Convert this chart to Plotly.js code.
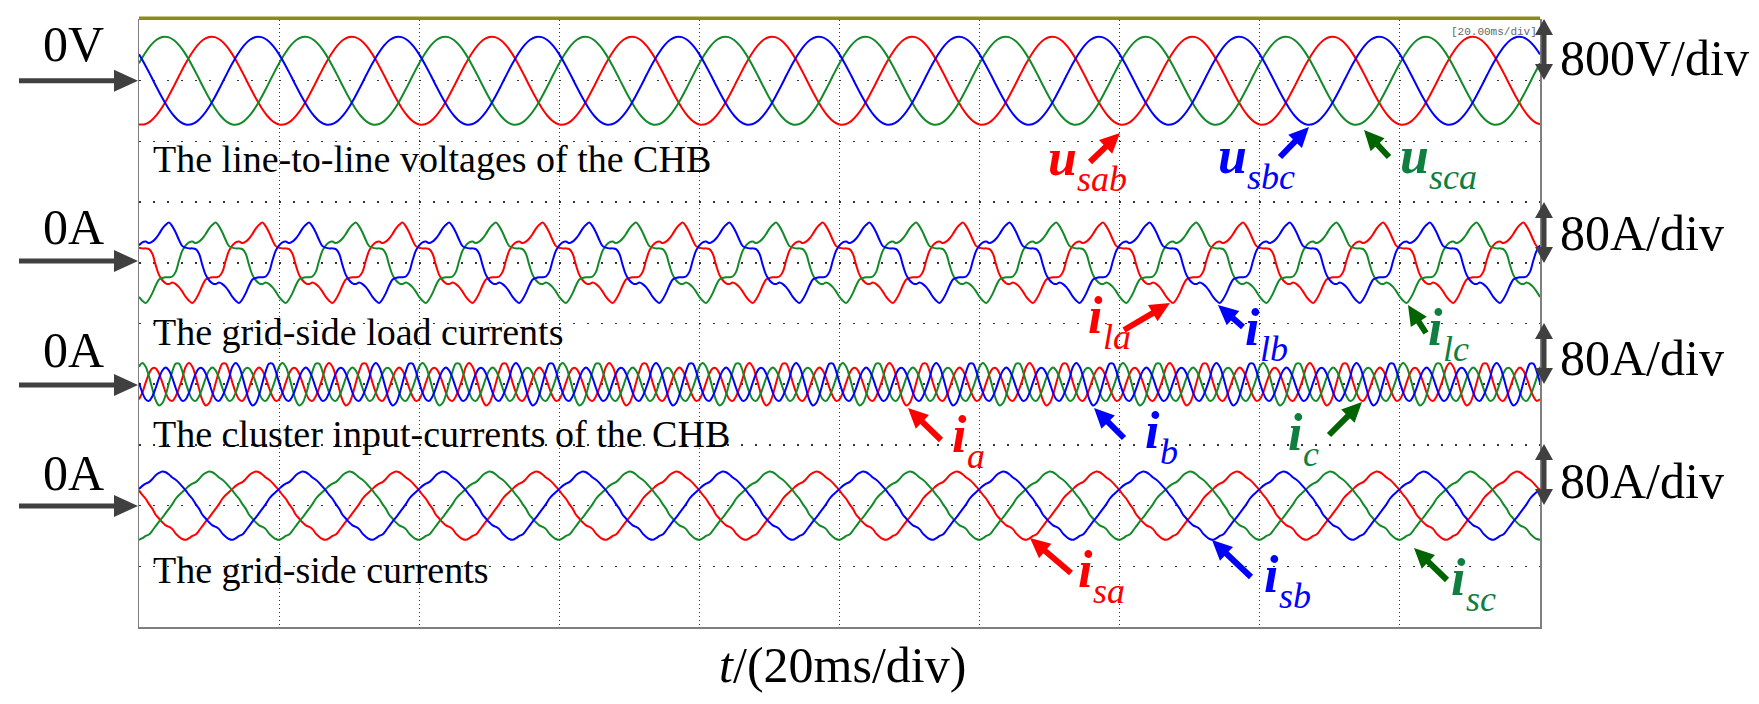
<!DOCTYPE html>
<html>
<head>
<meta charset="utf-8">
<script src="https://cdn.plot.ly/plotly-3.0.1.min.js"></script>
<style>html,body{margin:0;padding:0;background:#fff;}#chart{width:1759px;height:704px;}</style>
</head>
<body>
<div id="chart"></div>
<script>
// ---------- data (one 20 ms cycle, phase a) ----------
const timeDivMs = 20;
const cycles = 10;
// line-to-line voltage u_sab, V (24 samples / cycle)
const usab = [-576,-574,-533,-455,-347,-214,-68,84,229,359,465,539,576,574,533,455,347,214,68,-84,-229,-359,-465,-539];
// grid-side load current i_la, A (42 samples / cycle)
const ila = [20,19,19,18,12,-3,-16,-23,-27,-28,-26,-28,-32,-38,-45,-50,-53,-48,-40,-30,-22,-20,-19,-19,-18,-12,3,16,23,27,28,26,28,32,38,45,50,53,48,40,30,22];
// cluster input current i_a, A (42 samples / cycle)
const ia = [-20,-11,2,14,21,21,14,2,-11,-20,-22,-16,-5,8,23,28,23,10,-6,-21,-28,-25,-14,2,17,27,27,17,2,-11,-20,-22,-16,-5,8,18,22,18,8,-5,-16,-22];
// grid-side current i_sa, A (42 samples / cycle)
const isa = [20,14,9,2,-4,-12,-17,-22,-26,-28,-31,-37,-41,-44,-45,-43,-40,-38,-33,-27,-21,-16,-10,-4,2,9,14,18,22,26,29,31,35,40,43,45,44,41,37,34,30,25];
// channel scales (per division)
const scaleV = 800, scaleA = 80;
const channelLabels = ['0V','0A','0A','0A'];
const scaleLabels = ['800V/div','80A/div','80A/div','80A/div'];
const captions = ['The line-to-line voltages of the CHB','The grid-side load currents','The cluster input-currents of the CHB','The grid-side currents'];
const waveNames = [['u','sab'],['u','sbc'],['u','sca'],['i','la'],['i','lb'],['i','lc'],['i','a'],['i','b'],['i','c'],['i','sa'],['i','sb'],['i','sc']];

// ---------- build ----------
const RED='#ff0000', BLUE='#0000ff', GREEN='#138a2a';
function wave(cyc, shift){
  const n=cyc.length, x=[], y=[];
  for(let i=0;i<=cycles*n;i++){ x.push(i*timeDivMs/n); y.push(cyc[((i+shift)%n+n)%n]); }
  return {x,y};
}
function three(cyc, yax){
  const n=cyc.length, s=n/3;
  const a=wave(cyc,0), b=wave(cyc,-s), c=wave(cyc,s);
  const common={type:'scatter',mode:'lines',yaxis:yax,hoverinfo:'skip',showlegend:false};
  return [
    Object.assign({},common,{x:a.x,y:a.y,line:{color:RED,width:2,shape:'spline',smoothing:1}}),
    Object.assign({},common,{x:c.x,y:c.y,line:{color:GREEN,width:2,shape:'spline',smoothing:1}}),
    Object.assign({},common,{x:b.x,y:b.y,line:{color:BLUE,width:2,shape:'spline',smoothing:1}})
  ];
}
const data=[].concat(three(usab,'y'),three(ila,'y2'),three(ia,'y3'),three(isa,'y4'));

const L=139,R=1540,T=20,B=627,W=R-L,H=B-T;
const X=px=>(px-L)/W, Y=py=>(B-py)/H;
function P(px,py){return {x:X(px),y:Y(py),xref:'paper',yref:'paper'};}
const SERIF='Liberation Serif';
const ann=[], shapes=[];
function txt(px,py,text,size,color,xa,ya,fam,style,weight){
  const f={family:fam||SERIF,size:size,color:color||'#000'};
  if(style) f.style=style;
  if(weight) f.weight=weight;
  ann.push(Object.assign(P(px,py),{text:text,showarrow:false,xanchor:xa||'left',yanchor:ya||'middle',font:f}));
}
// arrow drawn as a filled polygon (tail -> head), optional head at both ends
function arrow(hx,hy,tx,ty,color,shaft,headLen,headW,both){
  const dx=hx-tx, dy=hy-ty, len=Math.hypot(dx,dy), ux=dx/len, uy=dy/len, qx=-uy, qy=ux;
  const s=shaft/2, h=headW/2;
  const nx=hx-headLen*ux, ny=hy-headLen*uy;
  let pts=[];
  if(both){
    const mx=tx+headLen*ux, my=ty+headLen*uy;
    pts=[[tx,ty],[mx+h*qx,my+h*qy],[mx+s*qx,my+s*qy],[nx+s*qx,ny+s*qy],[nx+h*qx,ny+h*qy],[hx,hy],
         [nx-h*qx,ny-h*qy],[nx-s*qx,ny-s*qy],[mx-s*qx,my-s*qy],[mx-h*qx,my-h*qy]];
  } else {
    pts=[[tx+s*qx,ty+s*qy],[nx+s*qx,ny+s*qy],[nx+h*qx,ny+h*qy],[hx,hy],[nx-h*qx,ny-h*qy],[nx-s*qx,ny-s*qy],[tx-s*qx,ty-s*qy]];
  }
  const path='M'+pts.map(p=>X(p[0]).toFixed(5)+','+Y(p[1]).toFixed(5)).join('L')+'Z';
  shapes.push({type:'path',xref:'paper',yref:'paper',path:path,fillcolor:color,line:{width:0},layer:'above'});
}
// left zero markers
const zeroY=[80.7,261,385,506];
const labelY=[44,227,350,473];
zeroY.forEach((y,i)=>{ arrow(138,y,19,y,'#404040',5,24,22); txt(41,labelY[i],channelLabels[i],50,'#000'); });
// right scale arrows
const divTop=[19,202,323,444];
const scaleY=[58,233,358,481];
divTop.forEach((y,i)=>{ arrow(1544,y,1544,y+61,'#404040',5,16,18,true); txt(1558,scaleY[i],scaleLabels[i],50,'#000'); });
// captions
const capY=[159,332,434,570];
captions.forEach((c,i)=>txt(151,capY[i],c,38,'#000'));
// x title: italic t followed by the unit text
txt(717,665,'t',50,'#000','left','middle',SERIF,'italic');
txt(731,665,'/(20ms/div)',50,'#000','left','middle');
// scope time base tag
txt(1449,32,'[20.00ms/div]',11,'#666','left','middle','Liberation Mono');
// waveform labels: bold italic symbol + italic subscript
const GTXT='#0f7f3f', GARR='#006400';
const labColor=[RED,BLUE,GTXT,RED,BLUE,GTXT,RED,BLUE,GTXT,RED,BLUE,GTXT];
const labPos=[[1046,175],[1216,173],[1398,173],[1086,333],[1243,345],[1426,345],[950,452],[1143,448],[1286,450],[1076,587],[1262,592],[1449,595]];
waveNames.forEach((nm,i)=>{
  const [px,base]=labPos[i];
  const mainW = nm[0]==='u' ? 29 : 15;
  txt(px,base-17.5,nm[0],52,labColor[i],'left','middle',SERIF,'italic','bold');
  txt(px+mainW,base+4,nm[1],36,labColor[i],'left','middle',SERIF,'italic');
});
const arrColor=[RED,BLUE,GARR,RED,BLUE,GARR,RED,BLUE,GARR,RED,BLUE,GARR];
const arrPts=[[1120,133,1090,162],[1309,127,1280,157],[1364,130,1389,157],
              [1170,303,1124,330],[1218,305,1243,327],[1408,305,1426,333],
              [908,408,941,440],[1094,408,1124,438],[1362,402,1329,435],
              [1030,538,1071,573],[1212,540,1251,577],[1414,548,1447,580]];
arrPts.forEach((a,i)=>arrow(a[0],a[1],a[2],a[3],arrColor[i],6,20,19));

// olive trigger bar on top of the screen
shapes.push({type:'line',xref:'paper',yref:'paper',x0:0,x1:1,y0:Y(18),y1:Y(18),line:{color:'#8b8b1a',width:3}});

const gridX=[]; for(let k=1;k<10;k++) gridX.push(k*timeDivMs);
const gridY=[]; for(let k=0;k<9;k++) gridY.push(-k*scaleV);

const layout={
  width:1759,height:704,paper_bgcolor:'#fff',plot_bgcolor:'#fff',
  margin:{l:L,r:1759-R,t:T,b:704-B,pad:0},
  showlegend:false,
  xaxis:{range:[0,cycles*timeDivMs],tickvals:gridX,showticklabels:false,ticks:'',showgrid:true,
    gridcolor:'#333',griddash:'1px,3px',gridwidth:1,zeroline:false,showline:true,linecolor:'#7f7f7f',linewidth:1.5,mirror:true,fixedrange:true},
  yaxis:{range:[-9*scaleV,scaleV],tickvals:gridY,showticklabels:false,ticks:'',showgrid:true,
    gridcolor:'#333',griddash:'2px,12px',gridwidth:1.5,zeroline:false,showline:true,linecolor:'#7f7f7f',linewidth:1.5,mirror:true,fixedrange:true},
  yaxis2:{overlaying:'y',range:[-6*scaleA,4*scaleA],visible:false,fixedrange:true},
  yaxis3:{overlaying:'y',range:[-4*scaleA,6*scaleA],visible:false,fixedrange:true},
  yaxis4:{overlaying:'y',range:[-2*scaleA,8*scaleA],visible:false,fixedrange:true},
  shapes:shapes,
  annotations:ann
};
Plotly.newPlot('chart',data,layout,{staticPlot:true,displayModeBar:false});
</script>
</body>
</html>
